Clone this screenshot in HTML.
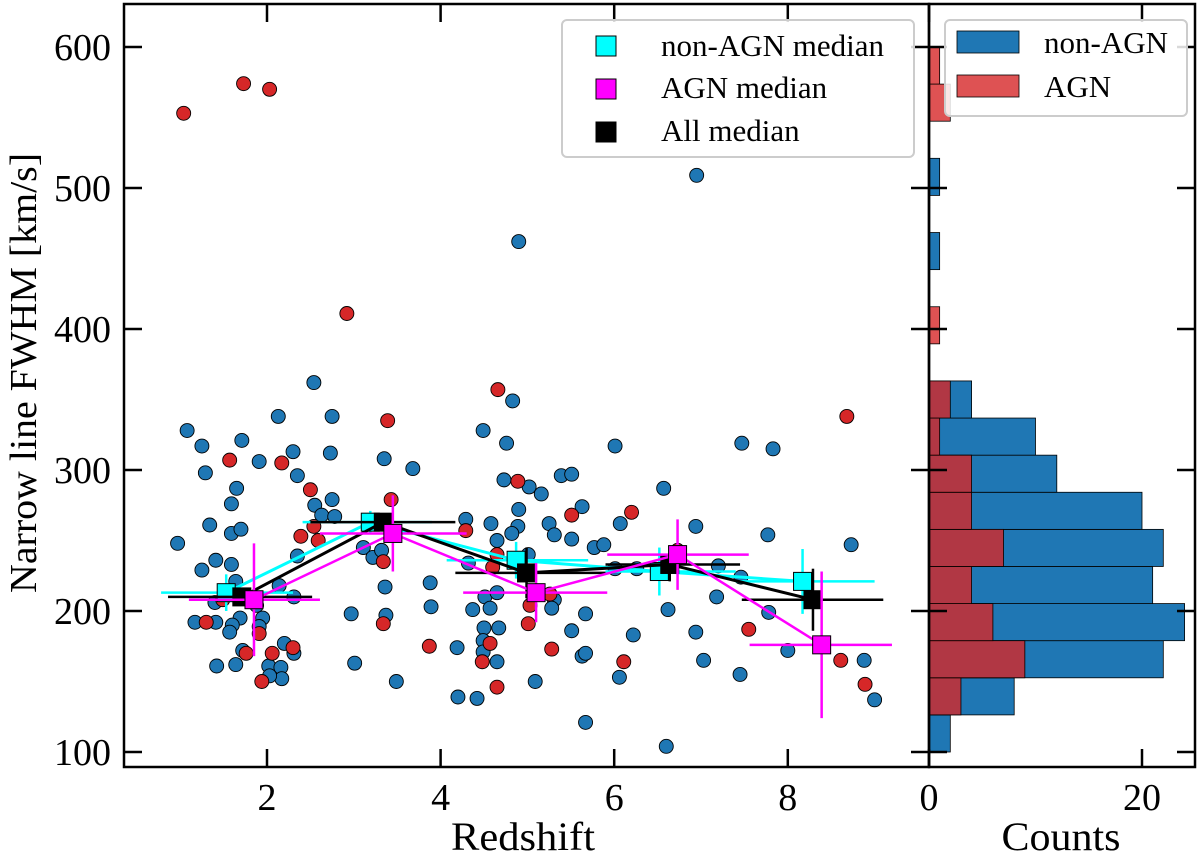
<!DOCTYPE html>
<html><head><meta charset="utf-8"><style>
body{margin:0;background:#fff;}
svg{display:block;font-family:"Liberation Serif",serif;}
</style></head><body>
<svg id="chart" width="1200" height="855" viewBox="0 0 1200 855" xmlns="http://www.w3.org/2000/svg">
<g id="hist"></g>
<g id="main"></g>
<g id="frames"></g>
</svg>
<script>
// ---- scatter data ----
const blueZ=[2.54,2.13,2.75,1.08,1.25,1.71,2.30,2.73,3.35,3.68,1.91,1.29,2.35,1.65,1.59,2.55,2.75,2.63,2.78,1.34,1.59,1.70,0.97,2.35,1.41,1.59,1.25,3.11,3.22,3.32,2.14,2.31,1.64,1.40,1.88,1.69,1.95,1.60,1.17,1.41,1.57,1.91,3.36,3.88,3.89,2.97,3.37,1.72,2.20,2.31,1.42,1.64,2.02,2.16,2.17,2.03,3.01,3.49,4.19,
4.83,4.49,4.76,6.01,7.47,7.83,4.73,5.02,5.16,5.39,5.51,6.57,4.90,5.63,6.07,6.94,7.77,8.73,4.29,4.58,4.89,4.82,5.25,5.31,5.51,5.77,5.88,4.65,4.32,5.01,6.01,6.26,7.20,7.46,4.51,4.65,4.37,4.57,5.31,5.28,5.67,4.50,4.67,5.51,6.62,7.18,7.78,6.22,6.94,4.49,4.49,4.65,5.63,5.67,6.06,7.03,7.45,8.00,8.88,9.00,5.09,4.20,4.42,5.67,6.60,4.90,6.95];
const blueV=[362,338,338,328,317,321,313,312,308,301,306,298,296,287,276,275,279,268,267,261,255,258,248,239,236,233,229,245,238,243,218,210,221,206,204,195,195,190,192,192,185,189,217,220,203,198,197,172,177,170,161,162,161,160,152,154,163,150,174,
349,328,319,317,319,315,293,288,283,296,297,287,272,274,262,260,254,247,265,262,260,255,262,254,251,245,247,250,234,240,230,230,232,224,210,213,201,202,208,202,198,188,188,186,201,210,199,183,185,179,171,164,168,170,153,165,155,172,165,137,150,139,138,121,104,462,509];
const redZ=[1.04,1.73,2.03,2.92,3.39,1.57,2.17,2.50,3.43,2.54,2.39,2.59,3.34,3.34,3.87,1.30,1.91,1.76,2.06,2.30,1.94,1.49,4.66,8.68,4.89,5.51,6.20,4.29,4.65,4.60,6.73,5.26,5.03,5.01,7.55,4.57,4.48,5.28,6.11,8.61,8.89,4.65];
const redV=[553,574,570,411,335,307,305,286,279,260,253,250,235,191,175,192,184,170,170,174,150,208,357,338,292,268,270,257,240,231,243,212,204,191,187,177,164,173,164,165,148,146];
// ---- medians ----
const allZ=[1.71,3.34,4.99,6.64,8.29], allV=[210,263,227,233,208];
const allXlo=[0.86,2.50,4.17,5.90,7.47], allXhi=[2.52,4.17,5.90,7.45,9.10], allErr=[5,5,18,12,22];
const nonZ=[1.53,3.19,4.87,6.52,8.17], nonV=[213,263,236,228,221];
const nonXlo=[0.78,2.41,4.07,5.90,7.40], nonXhi=[2.30,3.90,5.70,7.40,9.00], nonErr=[13,8,13,17,23];
const agnZ=[1.85,3.45,5.10,6.73,8.39], agnV=[208,255,213,240,176];
const agnXlo=[1.10,2.61,4.26,5.92,7.56], agnXhi=[2.61,4.30,5.92,7.55,9.20], agnErr=[40,27,21,25,52];
// ---- histogram ----
const binStart=100, binEnd=600, nBins=19;
const histBlue=[2,8,22,24,21,22,20,12,10,4,0,0,0,1,0,1,0,0,0];
const histRed=[0,3,9,6,4,7,4,4,1,2,0,1,0,0,0,0,0,2,1];
const yTicks=[100,200,300,400,500,600];
const xTicks=[2,4,6,8];
const cTicks=[0,20];

const NS="http://www.w3.org/2000/svg";
function X(z){return 267+(z-2)*86.8;}
function Y(v){return 752-(v-100)*1.41;}
function H(c){return 929+c*10.65;}
function mk(tag,attrs,parent){const e=document.createElementNS(NS,tag);for(const k in attrs)e.setAttribute(k,attrs[k]);parent.appendChild(e);return e;}
const main=document.getElementById('main'), hist=document.getElementById('hist'), frames=document.getElementById('frames');

// histogram bars
const bw=(binEnd-binStart)/nBins;
histBlue.forEach((c,i)=>{ if(!c) return;
  const r=mk('rect',{x:H(0),y:Y(binStart+(i+1)*bw),width:H(c)-H(0),height:Y(binStart+i*bw)-Y(binStart+(i+1)*bw),fill:'#1f77b4',stroke:'#000','stroke-width':0.8},hist);
  
  
});
histRed.forEach((c,i)=>{ if(!c) return;
  const r=mk('rect',{x:H(0),y:Y(binStart+(i+1)*bw),width:H(c)-H(0),height:Y(binStart+i*bw)-Y(binStart+(i+1)*bw),fill:'rgba(214,39,40,0.8)',stroke:'#000','stroke-width':0.8},hist);
  
  
});

// scatter points
blueZ.forEach((z,i)=>{
  const c=mk('circle',{cx:X(z),cy:Y(blueV[i]),r:7,fill:'#1f77b4',stroke:'#000','stroke-width':0.9},main);
  
  
});
redZ.forEach((z,i)=>{
  const c=mk('circle',{cx:X(z),cy:Y(redV[i]),r:7,fill:'#d62728',stroke:'#000','stroke-width':0.9},main);
  
  
});

// medians
function medians(zs,vs,xlo,xhi,err,color,name,w){
  const g=mk('g',{},main);
  
  
  zs.forEach((z,i)=>{
    mk('line',{x1:X(xlo[i]),x2:X(xhi[i]),y1:Y(vs[i]),y2:Y(vs[i]),stroke:color,'stroke-width':2.5},g);
    mk('line',{x1:X(z),x2:X(z),y1:Y(vs[i]-err[i]),y2:Y(vs[i]+err[i]),stroke:color,'stroke-width':2.5},g);
  });
  mk('polyline',{points:zs.map((z,i)=>X(z)+','+Y(vs[i])).join(' '),fill:'none',stroke:color,'stroke-width':w},g);
  zs.forEach((z,i)=>{
    const s=mk('rect',{x:X(z)-9,y:Y(vs[i])-9,width:18,height:18,fill:color,stroke:'#000','stroke-width':1},g);
    
    
  });
}
medians(nonZ,nonV,nonXlo,nonXhi,nonErr,'#00ffff','non-agn-median',3);
medians(allZ,allV,allXlo,allXhi,allErr,'#000000','all-median',3);
medians(agnZ,agnV,agnXlo,agnXhi,agnErr,'#ff00ff','agn-median',2.5);

// frames and ticks
mk('rect',{x:124,y:4,width:805,height:763,fill:'none',stroke:'#000','stroke-width':2.5},frames);
mk('rect',{x:929,y:4,width:266,height:763,fill:'none',stroke:'#000','stroke-width':2.5},frames);
yTicks.forEach(v=>{
  const y=Y(v);
  [[124,142],[911,947],[1177,1195]].forEach(p=>mk('line',{x1:p[0],x2:p[1],y1:y,y2:y,stroke:'#000','stroke-width':2.5},frames));
  const t=mk('text',{x:111,y:y+13,'text-anchor':'end','font-size':38},frames);
  t.textContent=v;
  
  
});
xTicks.forEach(z=>{
  const x=X(z);
  mk('line',{x1:x,x2:x,y1:749,y2:767,stroke:'#000','stroke-width':2.5},frames);
  mk('line',{x1:x,x2:x,y1:4,y2:22,stroke:'#000','stroke-width':2.5},frames);
  const t=mk('text',{x:x,y:810,'text-anchor':'middle','font-size':38},frames);
  t.textContent=z;
  
  
});
cTicks.forEach(c=>{
  const x=H(c);
  mk('line',{x1:x,x2:x,y1:749,y2:767,stroke:'#000','stroke-width':2.5},frames);
  mk('line',{x1:x,x2:x,y1:4,y2:22,stroke:'#000','stroke-width':2.5},frames);
  const t=mk('text',{x:x,y:810,'text-anchor':'middle','font-size':38},frames);
  t.textContent=c;
  
  
});
</script>
<svg width="0" height="0" style="position:absolute"></svg>
<div style="position:absolute;left:0;top:0;width:1200px;height:855px;pointer-events:none">
<svg width="1200" height="855" viewBox="0 0 1200 855" xmlns="http://www.w3.org/2000/svg" style="font-family:'Liberation Serif',serif">
  <text x="523" y="850" text-anchor="middle" font-size="40" textLength="144" lengthAdjust="spacingAndGlyphs">Redshift</text>
  <text x="1061" y="850" text-anchor="middle" font-size="40" textLength="119" lengthAdjust="spacingAndGlyphs">Counts</text>
  <text transform="translate(36,373) rotate(-90)" text-anchor="middle" font-size="38" textLength="440" lengthAdjust="spacingAndGlyphs">Narrow line FWHM [km/s]</text>
  <g>
    <rect x="562" y="20" width="352" height="137" rx="5" fill="rgba(255,255,255,0.85)" stroke="#cccccc" stroke-width="2"/>
    <rect x="596" y="36" width="20" height="20" fill="#00ffff" stroke="#000" stroke-width="1"/>
    <text x="661" y="56" font-size="31">non-AGN median</text>
    <rect x="596" y="79" width="20" height="20" fill="#ff00ff" stroke="#000" stroke-width="1"/>
    <text x="661" y="98" font-size="31">AGN median</text>
    <rect x="596" y="122" width="20" height="20" fill="#000" stroke="#000" stroke-width="1"/>
    <text x="661" y="141" font-size="31">All median</text>
  </g>
  <g>
    <rect x="945" y="20" width="242" height="96" rx="5" fill="rgba(255,255,255,0.85)" stroke="#cccccc" stroke-width="2"/>
    <rect x="957" y="31" width="62" height="22" fill="#1f77b4" stroke="#000" stroke-width="0.8"/>
    <text x="1044" y="53" font-size="31">non-AGN</text>
    <rect x="957" y="75" width="62" height="22" fill="rgba(214,39,40,0.8)" stroke="#000" stroke-width="0.8"/>
    <text x="1044" y="97" font-size="31">AGN</text>
  </g>
</svg>
</div>
</body></html>
